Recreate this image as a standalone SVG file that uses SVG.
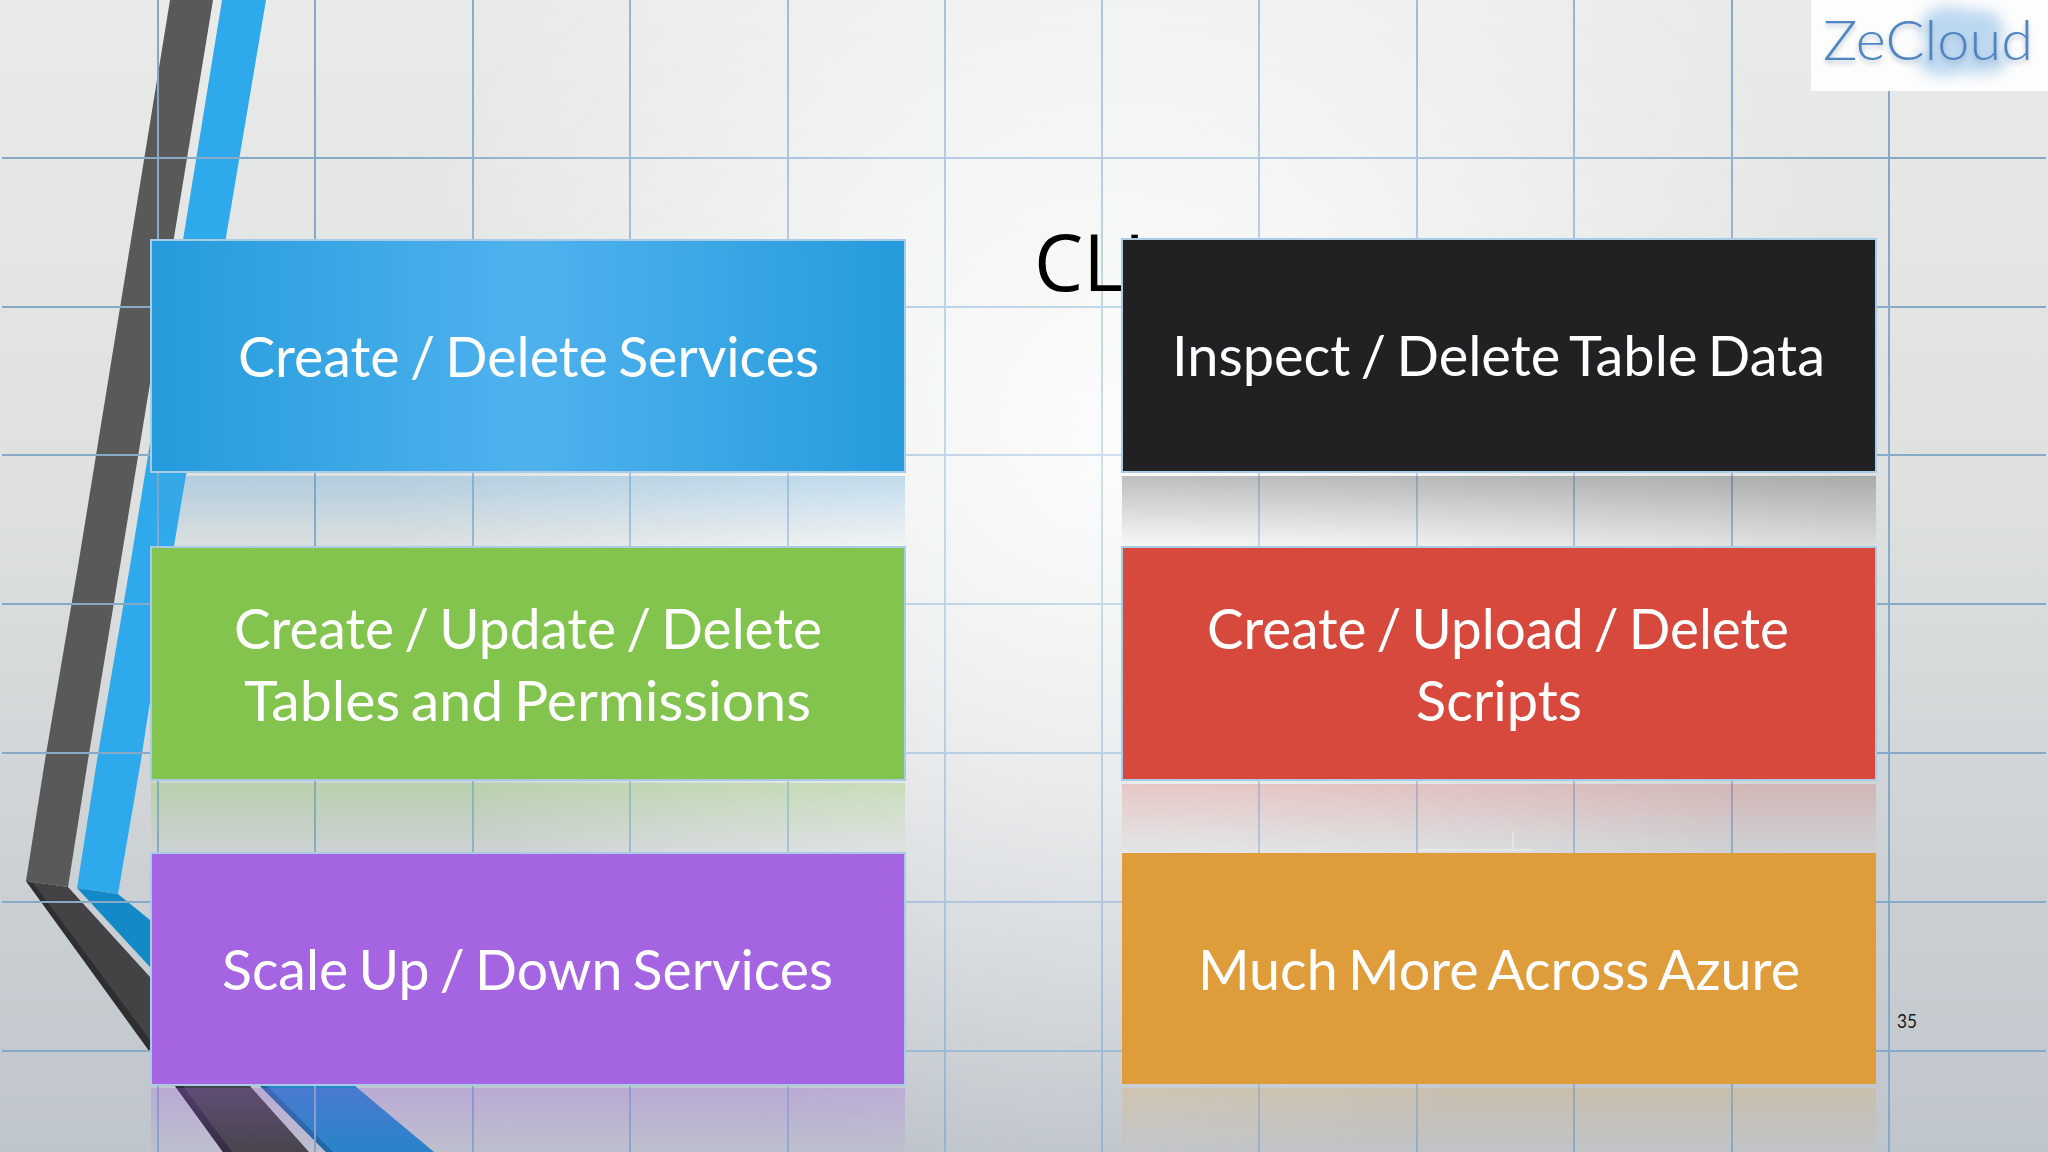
<svg xmlns="http://www.w3.org/2000/svg" width="2048" height="1152" viewBox="0 0 2048 1152">
<style>
.lbl{font-family:"Lato","Open Sans",sans-serif;font-size:57px;fill:#fff;word-spacing:-4px}
.box{stroke:#a9cbe6;stroke-width:2}
.grid line{stroke:url(#gridStroke);stroke-width:2}
</style>
<defs>
<linearGradient id="bgV" x1="0" y1="0" x2="0" y2="1"><stop offset="0" stop-color="#e8ebea"/><stop offset=".45" stop-color="#dde0df"/><stop offset="1" stop-color="#bfc5cc"/></linearGradient>
<radialGradient id="bgR" gradientUnits="userSpaceOnUse" cx="1120" cy="440" r="740"><stop offset="0" stop-color="#fff" stop-opacity=".9"/><stop offset=".4" stop-color="#fff" stop-opacity=".6"/><stop offset="1" stop-color="#fff" stop-opacity="0"/></radialGradient>
<radialGradient id="gridStroke" gradientUnits="userSpaceOnUse" cx="1100" cy="480" r="820"><stop offset="0" stop-color="#cfe0ef"/><stop offset=".5" stop-color="#b0c9df"/><stop offset="1" stop-color="#86a9c8"/></radialGradient>
<linearGradient id="blueFill" x1="0" y1="0" x2="1" y2="0"><stop offset="0" stop-color="#259bdc"/><stop offset=".5" stop-color="#4fb2ee"/><stop offset="1" stop-color="#259bdc"/></linearGradient>
<linearGradient id="rBlue" x1="0" y1="0" x2="0" y2="1"><stop offset="0" stop-color="#4a9fd8" stop-opacity=".3"/><stop offset="1" stop-color="#4a9fd8" stop-opacity="0"/></linearGradient>
<linearGradient id="rBlack" x1="0" y1="0" x2="0" y2="1"><stop offset="0" stop-color="#212123" stop-opacity=".28"/><stop offset="1" stop-color="#212123" stop-opacity="0"/></linearGradient>
<linearGradient id="rGreen" x1="0" y1="0" x2="0" y2="1"><stop offset="0" stop-color="#83c44f" stop-opacity=".3"/><stop offset="1" stop-color="#83c44f" stop-opacity="0"/></linearGradient>
<linearGradient id="rRed" x1="0" y1="0" x2="0" y2="1"><stop offset="0" stop-color="#d7493c" stop-opacity=".22"/><stop offset="1" stop-color="#d7493c" stop-opacity="0"/></linearGradient>
<linearGradient id="rPurple" x1="0" y1="0" x2="0" y2="1"><stop offset="0" stop-color="#a564e2" stop-opacity=".3"/><stop offset="1" stop-color="#a564e2" stop-opacity=".05"/></linearGradient>
<linearGradient id="rOrange" x1="0" y1="0" x2="0" y2="1"><stop offset="0" stop-color="#df9c3a" stop-opacity=".22"/><stop offset="1" stop-color="#df9c3a" stop-opacity=".03"/></linearGradient>
<filter id="blur8" x="-40%" y="-40%" width="180%" height="180%"><feGaussianBlur stdDeviation="7"/></filter>
<filter id="blur2" x="-10%" y="-30%" width="120%" height="160%"><feGaussianBlur stdDeviation="2.5"/></filter>
<filter id="blur1" x="-5%" y="-20%" width="110%" height="140%"><feGaussianBlur stdDeviation=".7"/></filter>
</defs>

<rect width="2048" height="1152" fill="url(#bgV)"/>
<rect width="2048" height="1152" fill="url(#bgR)"/>

<g id="ribbons">
<polygon points="170,0 213,0 121,560 88,760 68,887 26,881 45,760 79,560" fill="#59595a"/>
<polygon points="26,881 68,887 150,977 150,1052" fill="#434345"/>
<polygon points="26,881 34,884 150,1040 150,1052" fill="#2f2f31"/>
<polygon points="175,1086 250,1086 309,1152 223,1152" fill="#434345"/>
<polygon points="175,1086 183,1086 232,1152 223,1152" fill="#2f2a3a"/>
<polygon points="222,0 266,0 174,546 141,760 118,894 77,888 97,760 131,560" fill="#2eaaec"/>
<polygon points="77,888 118,894 150,920 150,967" fill="#1389c8"/>
<polygon points="260,1086 355,1086 434,1152 326,1152" fill="#2384c8"/>
<polygon points="260,1086 267,1086 333,1152 326,1152" fill="#17689f"/>
</g>

<g id="grid" class="grid">
<line x1="158" y1="0" x2="158" y2="1152"/><line x1="315" y1="0" x2="315" y2="1152"/><line x1="473" y1="0" x2="473" y2="1152"/><line x1="630" y1="0" x2="630" y2="1152"/><line x1="788" y1="0" x2="788" y2="1152"/><line x1="945" y1="0" x2="945" y2="1152"/><line x1="1102" y1="0" x2="1102" y2="1152"/><line x1="1259" y1="0" x2="1259" y2="1152"/><line x1="1417" y1="0" x2="1417" y2="1152"/><line x1="1574" y1="0" x2="1574" y2="1152"/><line x1="1732" y1="0" x2="1732" y2="1152"/><line x1="1889" y1="0" x2="1889" y2="1152"/>
<line x1="2" y1="158" x2="2046" y2="158"/><line x1="2" y1="307" x2="2046" y2="307"/><line x1="2" y1="455" x2="2046" y2="455"/><line x1="2" y1="604" x2="2046" y2="604"/><line x1="2" y1="753" x2="2046" y2="753"/><line x1="2" y1="902" x2="2046" y2="902"/><line x1="2" y1="1051" x2="2046" y2="1051"/>
</g>

<g id="title"><text x="1034" y="291" font-family="Open Sans, sans-serif" font-size="78" fill="#000">CLI</text></g>

<g id="logo">
<rect x="1811" y="0" width="237" height="91" fill="#fdfdfd"/>
<g filter="url(#blur8)" fill="#bcd8f0"><ellipse cx="1950" cy="28" rx="30" ry="22"/><ellipse cx="1978" cy="30" rx="26" ry="20"/><ellipse cx="1945" cy="60" rx="28" ry="16"/><ellipse cx="1982" cy="60" rx="26" ry="14"/></g>
<text x="1823" y="63" font-family="Lato, sans-serif" font-weight="300" font-size="56" fill="#8a9db5" opacity=".6" textLength="210" lengthAdjust="spacingAndGlyphs" filter="url(#blur2)">ZeCloud</text>
<text x="1823" y="60" font-family="Lato, sans-serif" font-weight="300" font-size="56" fill="#4f86c2" textLength="210" lengthAdjust="spacingAndGlyphs" filter="url(#blur1)">ZeCloud</text>
</g>

<g id="reflections">
<rect x="151" y="476" width="754" height="71" fill="url(#rBlue)"/>
<rect x="1122" y="476" width="754" height="71" fill="url(#rBlack)"/>
<rect x="151" y="783" width="754" height="70" fill="url(#rGreen)"/>
<rect x="1122" y="784" width="754" height="69" fill="url(#rRed)"/>
<rect x="151" y="1088" width="754" height="64" fill="url(#rPurple)"/>
<rect x="1122" y="1088" width="754" height="64" fill="url(#rOrange)"/>
<path d="M1513 831V850M1418 850H1532" stroke="#fff" stroke-width="2" opacity=".3" fill="none"/>
</g>

<g id="node-create-delete-services">
<rect class="box" x="151" y="240" width="754" height="232" fill="url(#blueFill)"/>
<text class="lbl" x="238" y="377" textLength="581" lengthAdjust="spacingAndGlyphs">Create / Delete Services</text>
</g>
<g id="node-inspect-delete-table-data">
<rect class="box" x="1122" y="239" width="754" height="233" fill="#212123"/>
<text class="lbl" x="1172" y="376" textLength="653" lengthAdjust="spacingAndGlyphs">Inspect / Delete Table Data</text>
</g>
<g id="node-tables-permissions">
<rect class="box" x="151" y="547" width="754" height="233" fill="#83c44f"/>
<text class="lbl" x="234" y="649" textLength="588" lengthAdjust="spacingAndGlyphs">Create / Update / Delete</text>
<text class="lbl" x="244" y="721" textLength="567" lengthAdjust="spacingAndGlyphs">Tables and Permissions</text>
</g>
<g id="node-scripts">
<rect class="box" x="1122" y="547" width="754" height="233" fill="#d7493c"/>
<text class="lbl" x="1207" y="649" textLength="582" lengthAdjust="spacingAndGlyphs">Create / Upload / Delete</text>
<text class="lbl" x="1416" y="721" textLength="166" lengthAdjust="spacingAndGlyphs">Scripts</text>
</g>
<g id="node-scale">
<rect class="box" x="151" y="853" width="754" height="232" fill="#a564e2"/>
<text class="lbl" x="222" y="990" textLength="611" lengthAdjust="spacingAndGlyphs">Scale Up / Down Services</text>
</g>
<g id="node-much-more">
<rect x="1122" y="853" width="754" height="231" fill="#df9c3a"/>
<text class="lbl" x="1198" y="990" textLength="602" lengthAdjust="spacingAndGlyphs">Much More Across Azure</text>
</g>

<g id="page-number"><text x="1897" y="1028" font-family="Lato, sans-serif" font-size="19" fill="#1a1a1a" textLength="20" lengthAdjust="spacingAndGlyphs">35</text></g>
</svg>
